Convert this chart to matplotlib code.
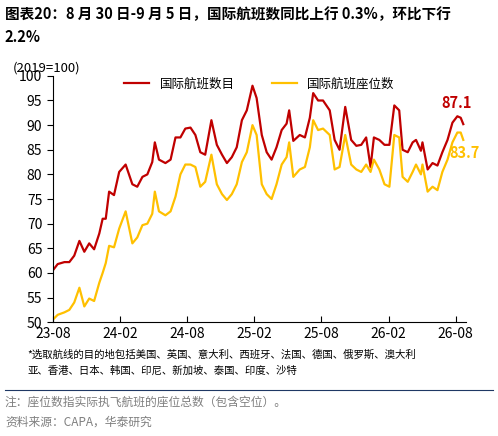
import matplotlib.pyplot as plt
from matplotlib.lines import Line2D

plt.rcParams['font.family'] = ['Noto Sans CJK SC', 'DejaVu Sans']

# 周序号(自2023-08起)
weeks = [0, 1.9, 4.5, 6.4, 8.3, 10.3, 12.2, 14.1, 16.0, 18.0, 19.3, 20.5, 21.8, 23.7, 25.7,
         28.2, 30.8, 32.7, 34.7, 36.6, 38.5, 39.5, 41.1, 43.6, 45.6, 47.5, 49.4, 51.3, 53.3,
         55.2, 57.1, 59.0, 61.4, 63.5, 65.5, 67.4, 69.3, 71.2, 73.2, 75.1, 77.3, 78.9, 80.9,
         82.8, 84.7, 86.6, 88.6, 90.5, 91.5, 93.1, 95.6, 97.6, 99.5, 100.8, 102.7, 104.6,
         107.2, 109.1, 111.0, 113.2, 115.5, 117.5, 119.4, 121.3, 123.0, 124.3, 126.4, 128.4,
         130.3, 132.2, 134.1, 135.4, 137.4, 139.3, 140.6, 142.5, 143.1, 145.1, 147.0, 148.9,
         150.8, 152.8, 154.7, 156.6, 157.9, 158.9]
flights = [60.5, 61.8, 62.2, 62.2, 63.5, 66.5, 64.3, 66, 64.8, 68, 71, 71, 76.5, 75.8, 80.5,
           82, 78, 77.5, 79.5, 80, 82.5, 86.5, 83, 82.3, 83, 87.5, 87.5, 89.3, 89.5,
           88, 84.5, 84, 91, 86, 84, 82.3, 83.5, 85.5, 91, 93, 98, 95.5, 88,
           84.5, 83, 85.5, 89, 90.3, 93, 86.8, 88, 87.5, 91.5, 96.5, 95, 95,
           93, 87, 85, 93.7, 87, 85.8, 86, 87.5, 81.5, 87.5, 87, 86,
           86, 94, 93, 85, 84.5, 86.5, 87, 84.8, 86.5, 81, 82.3, 81.8,
           84.5, 87, 90.5, 91.8, 91.5, 90.2]
seats = [50.5, 51.5, 52, 52.5, 54, 57, 53.2, 54.8, 54.3, 58, 60, 62, 65.5, 65.2, 69,
         72.5, 66, 67.2, 69.7, 70, 72, 76.5, 72.5, 71.7, 72.5, 75.5, 80, 82, 82,
         81.5, 77.5, 78.5, 84, 78, 76, 74.8, 76, 78, 82.5, 84.5, 90, 88, 78,
         76, 75, 78, 82, 83.5, 86.5, 79.5, 81, 81.5, 85.5, 91, 89, 89.3,
         88, 81, 81.5, 88, 82, 81, 80.5, 82, 80.5, 83, 81, 78,
         77.5, 88, 87.5, 79.5, 78.5, 80.5, 82, 80, 82, 76.5, 77.5, 76.8,
         80.5, 83, 86.5, 88.5, 88.5, 87]
tick_pos = [0, 26, 52, 78, 104, 130, 156]
tick_labels = ['23-08', '24-02', '24-08', '25-02', '25-08', '26-02', '26-08']

red = '#C00000'
yellow = '#FFC000'

fig = plt.figure(figsize=(4.98, 4.36), dpi=100)
ax = fig.add_axes([0.106, 0.261, 0.83, 0.565])
ax.plot(weeks, flights, color=red, lw=1.6)
ax.plot(weeks, seats, color=yellow, lw=1.6)
ax.set_ylim(50, 100)
ax.set_yticks(range(50, 101, 5))
ax.set_xlim(0, 160)
ax.set_xticks(tick_pos)
ax.set_xticklabels(tick_labels)
for s in ['top', 'right']:
    ax.spines[s].set_visible(False)
ax.tick_params(labelsize=10, length=4)
ax.tick_params(axis='x', direction='in', length=4)
fig.text(0.025, 0.835, '(2019=100)', fontsize=9.5)
ax.text(150.5, 93.5, '87.1', color=red, fontsize=10.5, fontweight='bold')
ax.text(153.5, 83.3, '83.7', color=yellow, fontsize=10.5, fontweight='bold')

handles = [Line2D([], [], color=red, lw=1.6), Line2D([], [], color=yellow, lw=1.6)]
ax.legend(handles, ['国际航班数目', '国际航班座位数'], loc='upper center', ncol=2,
          bbox_to_anchor=(0.5, 1.04), frameon=False, fontsize=9, columnspacing=3)

fig.text(0.01, 0.985, '图表20：8 月 30 日-9 月 5 日，国际航班数同比上行 0.3%，环比下行\n2.2%',
         fontsize=10.5, fontweight='bold', va='top', linespacing=1.5)
fig.text(0.055, 0.198, '*选取航线的目的地包括美国、英国、意大利、西班牙、法国、德国、俄罗斯、澳大利\n亚、香港、日本、韩国、印尼、新加坡、泰国、印度、沙特',
         fontsize=7.5, va='top', linespacing=1.6)
fig.add_artist(Line2D([0.01, 0.99], [0.106, 0.106], color='#1F3864', lw=0.8))
fig.text(0.01, 0.093, '注：座位数指实际执飞航班的座位总数（包含空位）。', fontsize=8.5,
         color='#7F7F7F', va='top')
fig.text(0.01, 0.046, '资料来源：CAPA，华泰研究', fontsize=8.5, color='#7F7F7F', va='top')

fig.savefig('out.png', dpi=100)
